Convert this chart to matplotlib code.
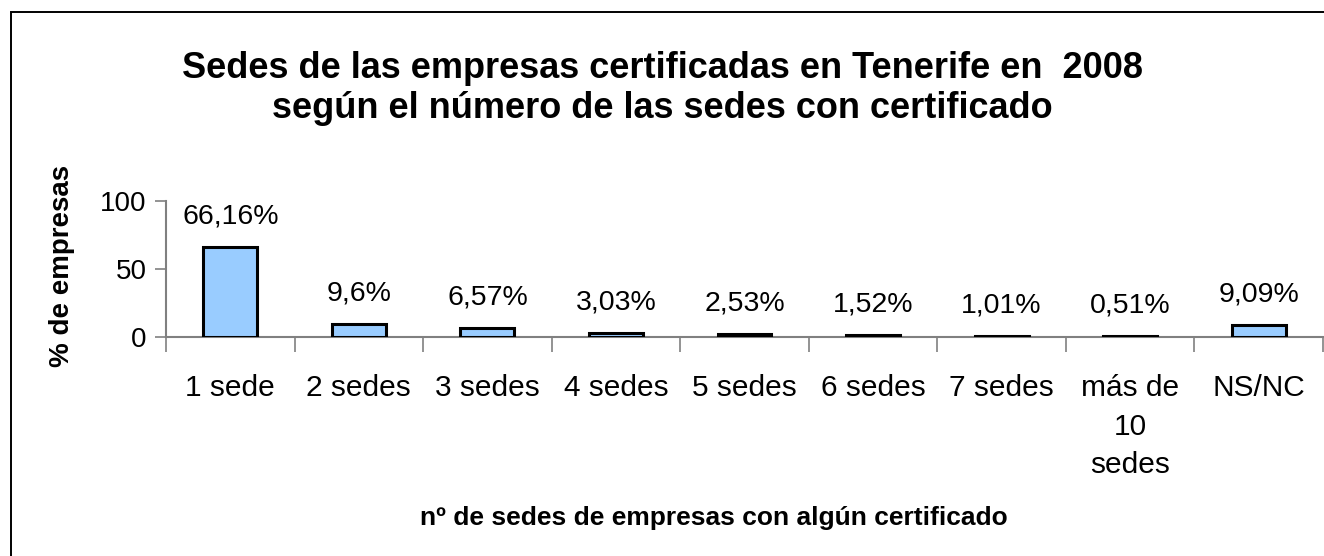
import matplotlib
matplotlib.use("Agg")
import matplotlib.pyplot as plt
from matplotlib.patches import Rectangle

categories = ["1 sede", "2 sedes", "3 sedes", "4 sedes", "5 sedes", "6 sedes",
              "7 sedes", "más de\n10\nsedes", "NS/NC"]
values = [66.16, 9.6, 6.57, 3.03, 2.53, 1.52, 1.01, 0.51, 9.09]
value_labels = ["66,16%", "9,6%", "6,57%", "3,03%", "2,53%", "1,52%",
                "1,01%", "0,51%", "9,09%"]
yticks = [0, 50, 100]

plt.rcParams['font.family'] = ['Liberation Sans', 'DejaVu Sans']

W, H = 1324, 556
fig = plt.figure(figsize=(W / 100, H / 100), dpi=100)
fig.patch.set_facecolor('white')

# outer chart frame
fig.patches.append(Rectangle((11 / W, 1 - 12 / H - 1.0), 1.2, 1.0,
                             transform=fig.transFigure, fill=False,
                             edgecolor='black', linewidth=1.4))

left, right, bottom, top = 166 / W, 1323 / W, 1 - 337 / H, 1 - 201 / H
ax = fig.add_axes([left, bottom, right - left, top - bottom])

x = list(range(len(categories)))
ax.bar(x, values, width=0.42, color='#99ccff', edgecolor='black', linewidth=2.2,
       zorder=3)
for xi, v, lab in zip(x, values, value_labels):
    ax.annotate(lab, (xi, v), xytext=(0, 22), textcoords='offset points',
                ha='center', va='center', fontsize=20.5, color='black',
                annotation_clip=False)

ax.set_xlim(-0.5, len(categories) - 0.5)
ax.set_ylim(0, 100)
ax.set_yticks(yticks)
ax.set_yticklabels([str(t) for t in yticks], fontsize=20)
ax.tick_params(axis='y', direction='out', length=8, width=1.2, color='#808080',
               pad=6)

# category tick marks between categories
ax.set_xticks([i + 0.5 for i in range(-1, len(categories))], minor=False)
ax.set_xticklabels([''] * (len(categories) + 1))
ax.tick_params(axis='x', direction='out', length=11, width=1.2, color='#808080')
ax.set_xticks(x, minor=True)
ax.set_xticklabels(categories, minor=True, fontsize=21.5, linespacing=1.47,
                   va='top')
ax.tick_params(axis='x', which='minor', length=0, pad=27)

for s in ['top', 'right']:
    ax.spines[s].set_visible(False)
for s in ['left', 'bottom']:
    ax.spines[s].set_color('#808080')
    ax.spines[s].set_linewidth(1.5)

fig.text(0.5, 1 - 69 / H, "Sedes de las empresas certificadas en Tenerife en  2008",
         ha='center', va='center', fontsize=26, fontweight='bold')
fig.text(0.5, 1 - 109 / H, "según el número de las sedes con certificado",
         ha='center', va='center', fontsize=26, fontweight='bold')
fig.text(62 / W, 1 - 266 / H, "% de empresas", rotation=90, ha='center',
         va='center', fontsize=20, fontweight='bold')
fig.text(714 / W, 1 - 518 / H, "nº de sedes de empresas con algún certificado",
         ha='center', va='center', fontsize=19, fontweight='bold')

fig.savefig("out.png", dpi=100)
